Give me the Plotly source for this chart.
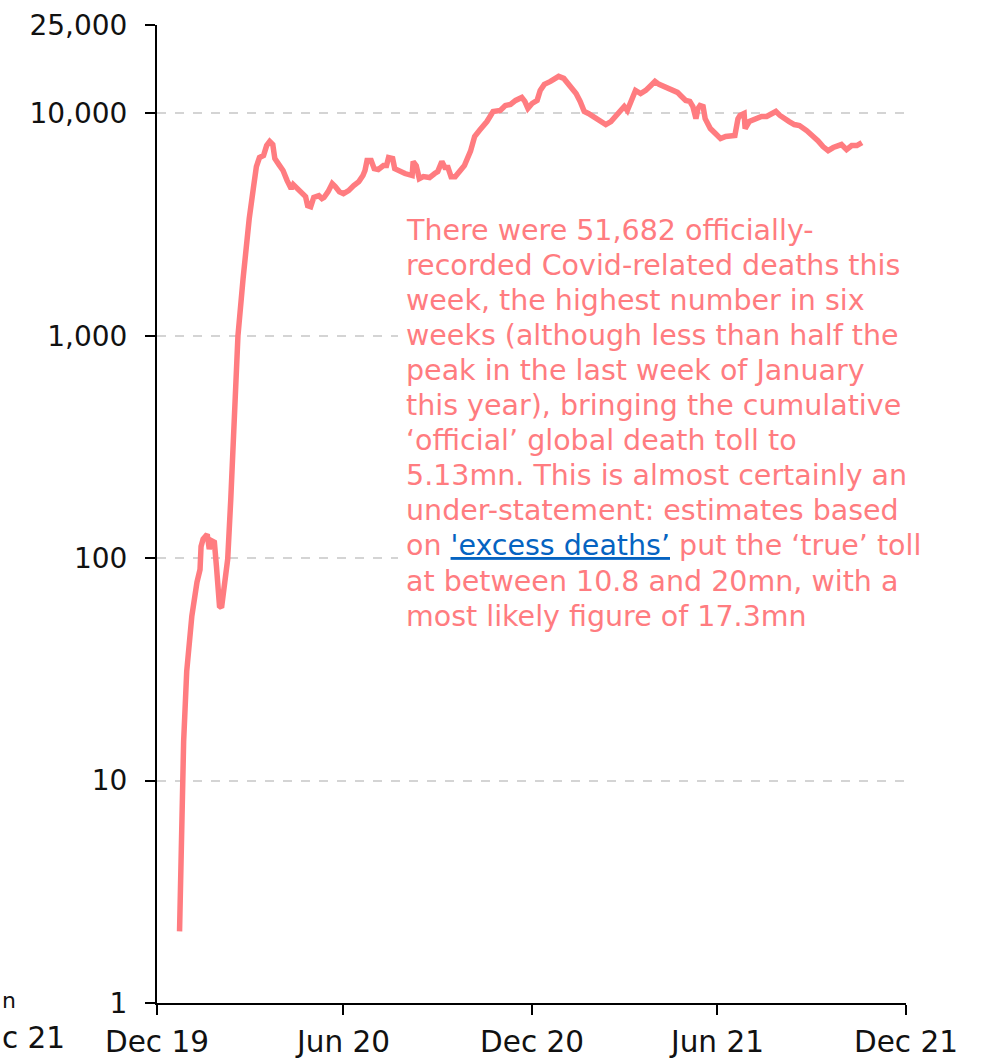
import plotly.graph_objects as go

dates = [
    "2020-01-22", "2020-01-24", "2020-01-26", "2020-01-29", "2020-01-30", "2020-02-03",
    "2020-02-08", "2020-02-11", "2020-02-12", "2020-02-14", "2020-02-18", "2020-02-20",
    "2020-02-22", "2020-02-25", "2020-02-27", "2020-03-01", "2020-03-03", "2020-03-06",
    "2020-03-09", "2020-03-12", "2020-03-15", "2020-03-19", "2020-03-24", "2020-03-27",
    "2020-03-30", "2020-04-03", "2020-04-06", "2020-04-09", "2020-04-13", "2020-04-16",
    "2020-04-19", "2020-04-22", "2020-04-24", "2020-04-28", "2020-05-02", "2020-05-06",
    "2020-05-10", "2020-05-12", "2020-05-16", "2020-05-21", "2020-05-24", "2020-05-26",
    "2020-05-29", "2020-06-01", "2020-06-06", "2020-06-09", "2020-06-11", "2020-06-15",
    "2020-06-19", "2020-06-22", "2020-06-26", "2020-06-30", "2020-07-05", "2020-07-10",
    "2020-07-15", "2020-07-19", "2020-07-21", "2020-07-23", "2020-07-27", "2020-07-30",
    "2020-08-03", "2020-08-08", "2020-08-11", "2020-08-13", "2020-08-17", "2020-08-19",
    "2020-08-24", "2020-08-29", "2020-09-05", "2020-09-06", "2020-09-09", "2020-09-12",
    "2020-09-16", "2020-09-22", "2020-09-27", "2020-09-30", "2020-10-04", "2020-10-07",
    "2020-10-10", "2020-10-13", "2020-10-17", "2020-10-21", "2020-10-26", "2020-11-01",
    "2020-11-05", "2020-11-10", "2020-11-17", "2020-11-23", "2020-11-30", "2020-12-05",
    "2020-12-10", "2020-12-15", "2020-12-21", "2020-12-24", "2020-12-27", "2020-12-31",
    "2021-01-05", "2021-01-08", "2021-01-12", "2021-01-18", "2021-01-23", "2021-01-26",
    "2021-01-31", "2021-02-05", "2021-02-10", "2021-02-12", "2021-02-16", "2021-02-20",
    "2021-02-24", "2021-03-01", "2021-03-08", "2021-03-13", "2021-03-18", "2021-03-23",
    "2021-03-27", "2021-03-31", "2021-04-03", "2021-04-07", "2021-04-11", "2021-04-16",
    "2021-04-21", "2021-04-26", "2021-04-30", "2021-05-04", "2021-05-09", "2021-05-14",
    "2021-05-17", "2021-05-22", "2021-05-25", "2021-05-30", "2021-06-03", "2021-06-06",
    "2021-06-09", "2021-06-11", "2021-06-13", "2021-06-16", "2021-06-18", "2021-06-23",
    "2021-06-28", "2021-07-03", "2021-07-08", "2021-07-13", "2021-07-17", "2021-07-20",
    "2021-07-22", "2021-07-26", "2021-07-27", "2021-07-31", "2021-08-06", "2021-08-12",
    "2021-08-17", "2021-08-22", "2021-08-26", "2021-08-30", "2021-09-03", "2021-09-08",
    "2021-09-13", "2021-09-18", "2021-09-25", "2021-10-01", "2021-10-06", "2021-10-11",
    "2021-10-16", "2021-10-21", "2021-10-26", "2021-10-29", "2021-11-03", "2021-11-08",
    "2021-11-13", "2021-11-18",
]

deaths_7d_avg = [
    2.1, 5.8, 15, 31, 35, 55,
    78, 89, 113, 122, 128, 110,
    120, 118, 92, 61, 60, 80,
    99, 184, 380, 1000, 1806, 2544,
    3365, 4590, 5770, 6340, 6470, 7170,
    7480, 7250, 6270, 5890, 5540, 4990,
    4590, 4790, 4590, 4360, 4230, 3850,
    3810, 4190, 4270, 4140, 4190, 4450,
    4840, 4690, 4450, 4360, 4500, 4740,
    4940, 5260, 5540, 6140, 6140, 5650,
    5600, 5830, 5830, 6340, 6270, 5650,
    5480, 5370, 5260, 6080, 5830, 5090,
    5200, 5150, 5370, 5480, 6080, 5710,
    5710, 5200, 5200, 5480, 5830, 6770,
    7880, 8420, 9200, 10210, 10320, 10860,
    10980, 11450, 11810, 11330, 10540, 11090,
    11450, 12700, 13520, 13940, 14380, 14680,
    14380, 13370, 12700, 12300, 11330, 10210,
    10000, 9690, 9300, 8920, 9200, 9800,
    10320, 10750, 10320, 11330, 12700, 12300,
    12700, 13370, 13940, 13520, 13240, 12970,
    12700, 12440, 12050, 11450, 11330, 10750,
    9480, 10530, 10860, 10750, 9480, 8560,
    8130, 7710, 7880, 7960, 7960, 9480,
    9800, 10000, 8560, 9200, 9400, 9690,
    9690, 10000, 10210, 9800, 9590, 9200,
    8920, 8830, 8380, 7960, 7550, 7100,
    6810, 7030, 7170, 7250, 6880, 7170,
    7170, 7400,
]

x_tick_dates = ["2019-12-31", "2020-06-30", "2020-12-31", "2021-06-30", "2021-12-31"]
x_tick_labels = ["Dec 19", "Jun 20", "Dec 20", "Jun 21", "Dec 21"]
y_tick_values = [1, 10, 100, 1000, 10000, 25000]
y_tick_labels = ["1", "10", "100", "1,000", "10,000", "25,000"]
y_grid_values = [10, 100, 1000, 10000]

note_lines = [
    "There were 51,682 officially-",
    "recorded Covid-related deaths this",
    "week, the highest number in six",
    "weeks (although less than half the",
    "peak in the last week of January",
    "this year), bringing the cumulative",
    "\u2018official\u2019 global death toll to",
    "5.13mn. This is almost certainly an",
    "under-statement: estimates based",
    "on <span style='color:#0563C1'><u>'excess deaths\u2019</u></span> put the \u2018true\u2019 toll",
    "at between 10.8 and 20mn, with a",
    "most likely figure of 17.3mn",
]

LINE_COLOR = "#FF7C80"
FONT = "DejaVu Sans"
W, H = 985, 1061
ML, MR, MT, MB = 157, 79, 25, 58
PW, PH = W - ML - MR, H - MT - MB


def px_x(px):
    return (px - ML) / PW


def px_y(py):
    return (MT + PH - py) / PH


fig = go.Figure()
fig.add_trace(go.Scatter(
    x=dates, y=deaths_7d_avg, mode="lines",
    line=dict(color=LINE_COLOR, width=5.5),
    showlegend=False, hoverinfo="skip",
))

fig.update_layout(
    width=W, height=H,
    margin=dict(l=ML, r=MR, t=MT, b=MB, autoexpand=False),
    paper_bgcolor="white", plot_bgcolor="white",
    font=dict(family=FONT, size=28, color="#111111"),
    showlegend=False,
)

fig.update_xaxes(
    type="date", automargin=False,
    range=[x_tick_dates[0], x_tick_dates[-1]],
    tickmode="array", tickvals=x_tick_dates, ticktext=x_tick_labels,
    ticks="outside", ticklen=10, tickwidth=2, tickcolor="black",
    showline=True, linecolor="black", linewidth=2,
    showgrid=False, zeroline=False,
    ticklabelstandoff=2,
    tickfont=dict(family=FONT, size=29.5, color="#111111"),
)

fig.update_yaxes(
    type="log", automargin=False,
    range=[0, 4.39794],
    tickmode="array", tickvals=y_tick_values, ticktext=y_tick_labels,
    ticks="outside", ticklen=10, tickwidth=2, tickcolor="black",
    showline=True, linecolor="black", linewidth=2,
    showgrid=False, zeroline=False,
    ticklabelstandoff=12,
    tickfont=dict(family=FONT, size=28, color="#111111"),
    minor=dict(tickmode="array", tickvals=y_grid_values, ticks="",
               showgrid=True, gridcolor="#D4D4D4", griddash="dash", gridwidth=1.5),
)

# white panel behind the note (covers the gridlines there; the line never enters it)
fig.add_shape(type="rect", xref="paper", yref="paper",
              x0=px_x(398), x1=1.0, y0=px_y(640), y1=px_y(205),
              fillcolor="white", line=dict(width=0), layer="above")

top_px = 230
step_px = 35.1
for i, txt in enumerate(note_lines):
    fig.add_annotation(
        xref="paper", yref="paper",
        x=px_x(404), y=px_y(top_px + step_px * i),
        xanchor="left", yanchor="middle", showarrow=False, align="left",
        text=txt, font=dict(family=FONT, size=28.5, color=LINE_COLOR),
    )

# fragments of the neighbouring chart visible at the left edge
fig.add_annotation(xref="paper", yref="paper", x=px_x(0), y=px_y(1038),
                   xanchor="left", yanchor="middle", showarrow=False,
                   text="c 21", font=dict(family=FONT, size=29.5, color="#111111"))
fig.add_annotation(xref="paper", yref="paper", x=px_x(0), y=px_y(1000),
                   xanchor="left", yanchor="middle", showarrow=False,
                   text="n", font=dict(family=FONT, size=22, color="#111111"))

fig.write_html("out.html", config={"displayModeBar": False},
               post_script="document.body.style.margin='0';")
